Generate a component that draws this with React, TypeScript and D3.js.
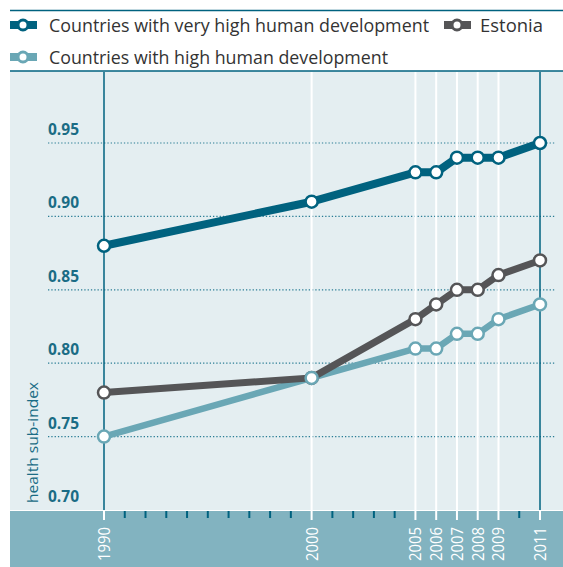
import React from 'react';
import * as d3 from 'd3';

// chart data
const years = [1990, 2000, 2005, 2006, 2007, 2008, 2009, 2011];
const veryHigh = [0.88, 0.91, 0.93, 0.93, 0.94, 0.94, 0.94, 0.95];
const estonia = [0.78, 0.79, 0.83, 0.84, 0.85, 0.85, 0.86, 0.87];
const high = [0.75, 0.79, 0.81, 0.81, 0.82, 0.82, 0.83, 0.84];
const yTicks = [0.7, 0.75, 0.8, 0.85, 0.9, 0.95];
const seriesNames = [
  'Countries with very high human development',
  'Estonia',
  'Countries with high human development',
];

const W = 563;
const H = 567;
const TEAL = '#00627f';
const GREY = '#555557';
const LIGHT = '#6aa7b5';

const App = () => {
  // plot box
  const plotLeft = 10;
  const plotTop = 71;
  const plotBottom = 510;

  const x = d3.scaleLinear().domain([1990, 2011]).range([104, 540]);
  const y = d3.scaleLinear().domain([0.7, 0.95]).range([plotBottom, 143]);

  const line = d3.line<number>()
    .x((d, i) => x(years[i]))
    .y(d => y(d));

  const allYears = d3.range(1990, 2012);
  const whiteYears = years.filter(yr => yr !== 1990 && yr !== 2011);

  const series = [
    { name: seriesNames[2], values: high, color: LIGHT, width: 6.5 },
    { name: seriesNames[1], values: estonia, color: GREY, width: 7 },
    { name: seriesNames[0], values: veryHigh, color: TEAL, width: 8 },
  ];
  const markerOrder = [series[1], series[0], series[2]];

  const legendMarker = (cx: number, cy: number, color: string) => (
    <g>
      <line x1={cx - 13} x2={cx + 14} y1={cy} y2={cy} stroke={color} strokeWidth={8} />
      <circle cx={cx} cy={cy} r={5} fill="#fff" stroke={color} strokeWidth={3} />
    </g>
  );

  return (
    <svg width={W} height={H} style={{ position: 'fixed', left: 0, top: 0 }}
      fontFamily="'Open Sans', 'DejaVu Sans', sans-serif">
      <rect width={W} height={H} fill="#fff" />

      {/* header rule and legend */}
      <line x1={10} x2={W} y1={10.5} y2={10.5} stroke={TEAL} strokeWidth={1.5} />
      {legendMarker(23, 25, TEAL)}
      <text x={49} y={31.5} fontSize={19} fill="#333" textLength={380} lengthAdjust="spacingAndGlyphs">
        {seriesNames[0]}
      </text>
      {legendMarker(457, 25, GREY)}
      <text x={480} y={31.5} fontSize={19} fill="#333" textLength={63} lengthAdjust="spacingAndGlyphs">
        {seriesNames[1]}
      </text>
      {legendMarker(23, 57, LIGHT)}
      <text x={49} y={63.5} fontSize={19} fill="#333" textLength={339} lengthAdjust="spacingAndGlyphs">
        {seriesNames[2]}
      </text>

      {/* plot background and bottom band */}
      <rect x={plotLeft} y={plotTop} width={W - plotLeft} height={plotBottom - plotTop} fill="#e4eef1" />
      <rect x={plotLeft} y={plotBottom + 1} width={W - plotLeft} height={H - plotBottom - 1} fill="#82b3c0" />
      <line x1={plotLeft} x2={W} y1={plotTop} y2={plotTop} stroke={TEAL} strokeWidth={1.5} />

      {/* gridlines */}
      {yTicks.filter(t => t > 0.7).map(t => (
        <line key={t} x1={48} x2={556} y1={y(t)} y2={y(t)} stroke="#2a7d95"
          strokeWidth={1.2} strokeDasharray="1.3 2" />
      ))}

      {/* vertical year lines */}
      {whiteYears.map(yr => (
        <line key={yr} x1={x(yr)} x2={x(yr)} y1={plotTop + 1} y2={plotBottom} stroke="#fff" strokeWidth={2} />
      ))}
      {[1990, 2011].map(yr => (
        <line key={yr} x1={x(yr)} x2={x(yr)} y1={plotTop + 1} y2={plotBottom} stroke={TEAL} strokeWidth={1.5} />
      ))}

      {/* y tick labels */}
      {yTicks.map(t => (
        <text key={t} x={48} y={y(t) - 8} fontSize={16} fontWeight="bold" fill="#1a6c85"
          textLength={31} lengthAdjust="spacingAndGlyphs">
          {d3.format('.2f')(t)}
        </text>
      ))}
      <text transform={`translate(37.5,503) rotate(-90)`} fontSize={15} fill="#1a6c85"
        textLength={121} lengthAdjust="spacingAndGlyphs">
        health sub-index
      </text>

      {/* x ticks */}
      {allYears.map(yr => years.includes(yr) ? (
        <line key={yr} x1={x(yr)} x2={x(yr)} y1={plotBottom + 1} y2={plotBottom + 10} stroke="#fff" strokeWidth={2} />
      ) : (
        <line key={yr} x1={x(yr)} x2={x(yr)} y1={plotBottom + 1} y2={plotBottom + 8} stroke={TEAL} strokeWidth={2} />
      ))}
      {years.map(yr => (
        <text key={yr} transform={`translate(${x(yr) + 6},527) rotate(-90)`} textAnchor="end"
          fontSize={16} fill="#fff" textLength={34} lengthAdjust="spacingAndGlyphs">
          {yr}
        </text>
      ))}

      {/* series lines */}
      {series.map(s => (
        <path key={s.name} d={line(s.values) || ''} fill="none" stroke={s.color}
          strokeWidth={s.width} strokeLinejoin="round" />
      ))}
      {markerOrder.map(s => (
        <g key={s.name}>
          {s.values.map((v, i) => (
            <circle key={i} cx={x(years[i])} cy={y(v)} r={6} fill="#fff" stroke={s.color} strokeWidth={2.5} />
          ))}
        </g>
      ))}
    </svg>
  );
};

export default App;
